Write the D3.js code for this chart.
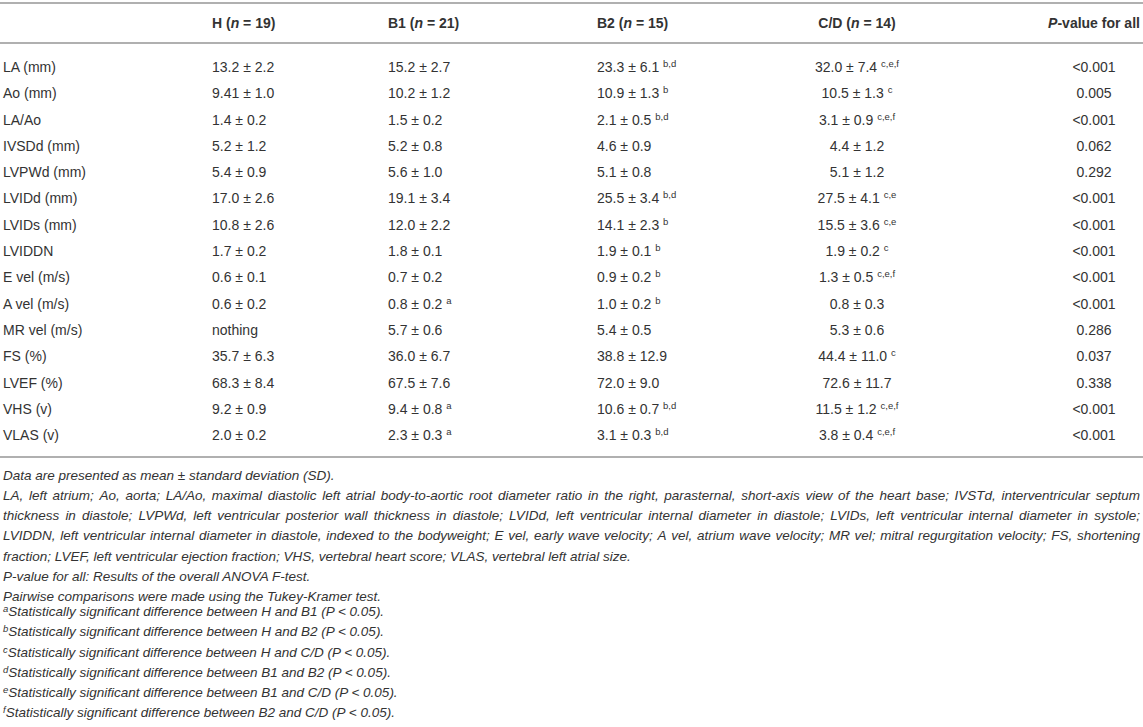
<!DOCTYPE html>
<html>
<head>
<meta charset="utf-8">
<script src="https://cdn.jsdelivr.net/npm/d3@7"></script>
<style>
  body { margin: 0; background: #ffffff; }
  text { white-space: pre; }
</style>
</head>
<body>
<script>
var w = 1143;
var h = 727;
var font = "'Liberation Sans', Arial, sans-serif";
var ink = "#333333";
var rule = "#b0b0b0";

// table content
var groups = ["H", "B1", "B2", "C/D"];
var groupN = [19, 21, 15, 14];

var rowLabels = ["LA (mm)", "Ao (mm)", "LA/Ao", "IVSDd (mm)", "LVPWd (mm)", "LVIDd (mm)",
    "LVIDs (mm)", "LVIDDN", "E vel (m/s)", "A vel (m/s)", "MR vel (m/s)", "FS (%)",
    "LVEF (%)", "VHS (v)", "VLAS (v)"];

var hVals = ["13.2 ± 2.2", "9.41 ± 1.0", "1.4 ± 0.2", "5.2 ± 1.2", "5.4 ± 0.9", "17.0 ± 2.6",
    "10.8 ± 2.6", "1.7 ± 0.2", "0.6 ± 0.1", "0.6 ± 0.2", "nothing", "35.7 ± 6.3",
    "68.3 ± 8.4", "9.2 ± 0.9", "2.0 ± 0.2"];
var b1Vals = ["15.2 ± 2.7", "10.2 ± 1.2", "1.5 ± 0.2", "5.2 ± 0.8", "5.6 ± 1.0", "19.1 ± 3.4",
    "12.0 ± 2.2", "1.8 ± 0.1", "0.7 ± 0.2", "0.8 ± 0.2", "5.7 ± 0.6", "36.0 ± 6.7",
    "67.5 ± 7.6", "9.4 ± 0.8", "2.3 ± 0.3"];
var b2Vals = ["23.3 ± 6.1", "10.9 ± 1.3", "2.1 ± 0.5", "4.6 ± 0.9", "5.1 ± 0.8", "25.5 ± 3.4",
    "14.1 ± 2.3", "1.9 ± 0.1", "0.9 ± 0.2", "1.0 ± 0.2", "5.4 ± 0.5", "38.8 ± 12.9",
    "72.0 ± 9.0", "10.6 ± 0.7", "3.1 ± 0.3"];
var cdVals = ["32.0 ± 7.4", "10.5 ± 1.3", "3.1 ± 0.9", "4.4 ± 1.2", "5.1 ± 1.2", "27.5 ± 4.1",
    "15.5 ± 3.6", "1.9 ± 0.2", "1.3 ± 0.5", "0.8 ± 0.3", "5.3 ± 0.6", "44.4 ± 11.0",
    "72.6 ± 11.7", "11.5 ± 1.2", "3.8 ± 0.4"];

var hSup = ["", "", "", "", "", "", "", "", "", "", "", "", "", "", ""];
var b1Sup = ["", "", "", "", "", "", "", "", "", "a", "", "", "", "a", "a"];
var b2Sup = ["b,d", "b", "b,d", "", "", "b,d", "b", "b", "b", "b", "", "", "", "b,d", "b,d"];
var cdSup = ["c,e,f", "c", "c,e,f", "", "", "c,e", "c,e", "c", "c,e,f", "", "", "c", "", "c,e,f", "c,e,f"];

var pVals = ["<0.001", "0.005", "<0.001", "0.062", "0.292", "<0.001", "<0.001", "<0.001",
    "<0.001", "<0.001", "0.286", "0.037", "0.338", "<0.001", "<0.001"];

var noteLines = [
    "Data are presented as mean ± standard deviation (SD).",
    "LA, left atrium; Ao, aorta; LA/Ao, maximal diastolic left atrial body-to-aortic root diameter ratio in the right, parasternal, short-axis view of the heart base; IVSTd, interventricular septum",
    "thickness in diastole; LVPWd, left ventricular posterior wall thickness in diastole; LVIDd, left ventricular internal diameter in diastole; LVIDs, left ventricular internal diameter in systole;",
    "LVIDDN, left ventricular internal diameter in diastole, indexed to the bodyweight; E vel, early wave velocity; A vel, atrium wave velocity; MR vel; mitral regurgitation velocity; FS, shortening",
    "fraction; LVEF, left ventricular ejection fraction; VHS, vertebral heart score; VLAS, vertebral left atrial size.",
    "P-value for all: Results of the overall ANOVA F-test.",
    "Pairwise comparisons were made using the Tukey-Kramer test."
];
var noteJustify = [false, true, true, true, false, false, false];

var pairSup = ["a", "b", "c", "d", "e", "f"];
var pairA = ["H", "H", "H", "B1", "B1", "B2"];
var pairB = ["B1", "B2", "C/D", "B2", "C/D", "C/D"];

var svg = d3.select("body")
    .append("svg")
    .attr("width", w)
    .attr("height", h)
    .style("font-family", font)
    .style("fill", ink);

var cols = ["label", "H", "B1", "B2", "C/D", "P"];
var colX = d3.scaleOrdinal().domain(cols).range([3, 212, 388, 597, 857, 1094]);
var colAnchor = d3.scaleOrdinal().domain(cols).range(["start", "start", "start", "start", "middle", "middle"]);

var y = d3.scaleBand().domain(rowLabels).range([53.8, 448.3]);
var noteY = d3.scaleLinear().domain([0, 12]).range([475, 717]);

// rules
[3, 43, 457].forEach(function(ly) {
    svg.append("line")
        .attr("x1", 0).attr("x2", w)
        .attr("y1", ly).attr("y2", ly)
        .attr("stroke", rule)
        .attr("stroke-width", 2);
});

// header
var headerY = 23;
groups.forEach(function(g, i) {
    var t = svg.append("text")
        .attr("x", colX(g))
        .attr("y", headerY)
        .attr("dy", "0.36em")
        .attr("text-anchor", colAnchor(g))
        .attr("font-size", 14)
        .attr("font-weight", "bold");
    t.append("tspan").text(g + " (");
    t.append("tspan").attr("font-style", "italic").text("n");
    t.append("tspan").text(" = " + groupN[i] + ")");
});
var ph = svg.append("text")
    .attr("x", colX("P"))
    .attr("y", headerY)
    .attr("dy", "0.36em")
    .attr("text-anchor", colAnchor("P"))
    .attr("font-size", 14)
    .attr("font-weight", "bold");
ph.append("tspan").attr("font-style", "italic").text("P");
ph.append("tspan").text("-value for all");

// body rows
function cell(col, vals, sups) {
    rowLabels.forEach(function(r, i) {
        var t = svg.append("text")
            .attr("x", colX(col))
            .attr("y", y(r) + y.bandwidth() / 2)
            .attr("dy", "0.36em")
            .attr("text-anchor", colAnchor(col))
            .attr("font-size", 14);
        t.append("tspan").text(vals[i]);
        if (sups && sups[i]) {
            t.append("tspan").text(" ");
            t.append("tspan")
                .attr("font-size", 9.5)
                .attr("dy", -5)
                .text(sups[i]);
        }
    });
}
cell("label", rowLabels, null);
cell("H", hVals, hSup);
cell("B1", b1Vals, b1Sup);
cell("B2", b2Vals, b2Sup);
cell("C/D", cdVals, cdSup);
cell("P", pVals, null);

// footnotes
var noteSize = 13.5;
var left = 3, right = 1140;
noteLines.forEach(function(line, i) {
    var ly = noteY(i);
    if (!noteJustify[i]) {
        svg.append("text")
            .attr("x", left).attr("y", ly).attr("dy", "0.36em")
            .attr("font-size", noteSize)
            .attr("font-style", "italic")
            .text(line);
        return;
    }
    var words = line.split(" ");
    var g = svg.append("g");
    var nodes = words.map(function(wd) {
        return g.append("text")
            .attr("y", ly).attr("dy", "0.36em")
            .attr("font-size", noteSize)
            .attr("font-style", "italic")
            .text(wd);
    });
    var lens = nodes.map(function(n) { return n.node().getComputedTextLength(); });
    var gap = (right - left - d3.sum(lens)) / (words.length - 1);
    var xx = left;
    nodes.forEach(function(n, k) {
        n.attr("x", xx);
        xx += lens[k] + gap;
    });
});

pairSup.forEach(function(s, i) {
    var t = svg.append("text")
        .attr("x", left)
        .attr("y", noteY(noteLines.length + i))
        .attr("dy", "0.36em")
        .attr("font-size", noteSize)
        .attr("font-style", "italic");
    t.append("tspan").attr("font-size", 9.5).attr("dy", -4).text(s);
    t.append("tspan").attr("dy", 4)
        .text("Statistically significant difference between " + pairA[i] + " and " + pairB[i] + " (P < 0.05).");
});
</script>
</body>
</html>
